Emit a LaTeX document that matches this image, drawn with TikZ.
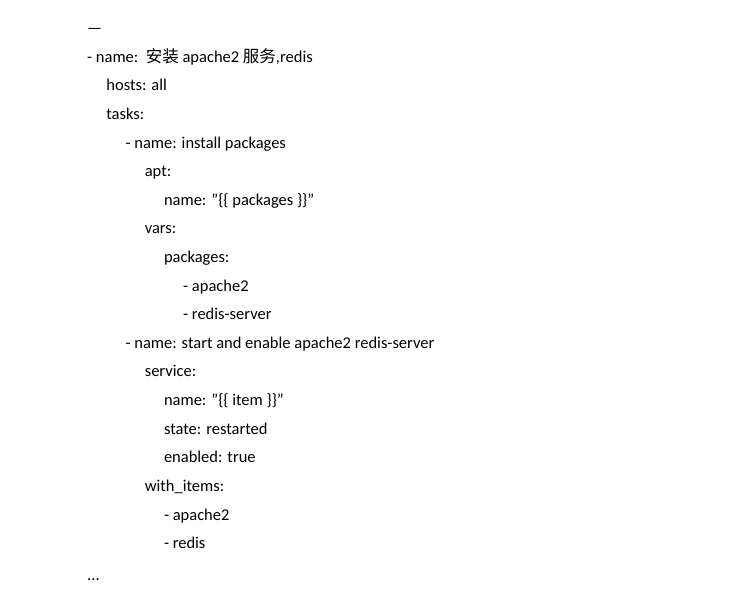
\documentclass[tikz,border=0pt]{standalone}
\usepackage{fontspec}
\setmainfont{Carlito}
\newfontfamily\cjk{Noto Sans CJK SC}
\begin{document}
\begin{tikzpicture}[x=1pt,y=-1pt,t/.style={anchor=base west,inner sep=0pt,font=\fontsize{16.5}{18}\selectfont}]
\useasboundingbox (0,0) rectangle (743,613);
\def\L{19.2}
\node[t] (l0) at (87,33) {---};
\node[t] (l1) at (87,62) {- name:\ \ {\cjk 安装} apache2 {\cjk 服务},redis};
\node[t] (l2) at (87+\L,90) {hosts: all};
\node[t] (l3) at (87+\L,119) {tasks:};
\node[t] (l4) at (87+2*\L,148) {- name: install packages};
\node[t] (l5) at (87+3*\L,176) {apt:};
\node[t] (l6) at (87+4*\L,205) {name: "\{\{ packages \}\}"};
\node[t] (l7) at (87+3*\L,233) {vars:};
\node[t] (l8) at (87+4*\L,262) {packages:};
\node[t] (l9) at (87+5*\L,291) {- apache2};
\node[t] (l10) at (87+5*\L,319) {- redis-server};
\node[t] (l11) at (87+2*\L,348) {- name: start and enable apache2 redis-server};
\node[t] (l12) at (87+3*\L,376) {service:};
\node[t] (l13) at (87+4*\L,405) {name: "\{\{ item \}\}"};
\node[t] (l14) at (87+4*\L,434) {state: restarted};
\node[t] (l15) at (87+4*\L,462) {enabled: true};
\node[t] (l16) at (87+3*\L,491) {with\_items:};
\node[t] (l17) at (87+4*\L,520) {- apache2};
\node[t] (l18) at (87+4*\L,548) {- redis};
\node[t] (l19) at (87,580) {...};
\end{tikzpicture}
\end{document}
